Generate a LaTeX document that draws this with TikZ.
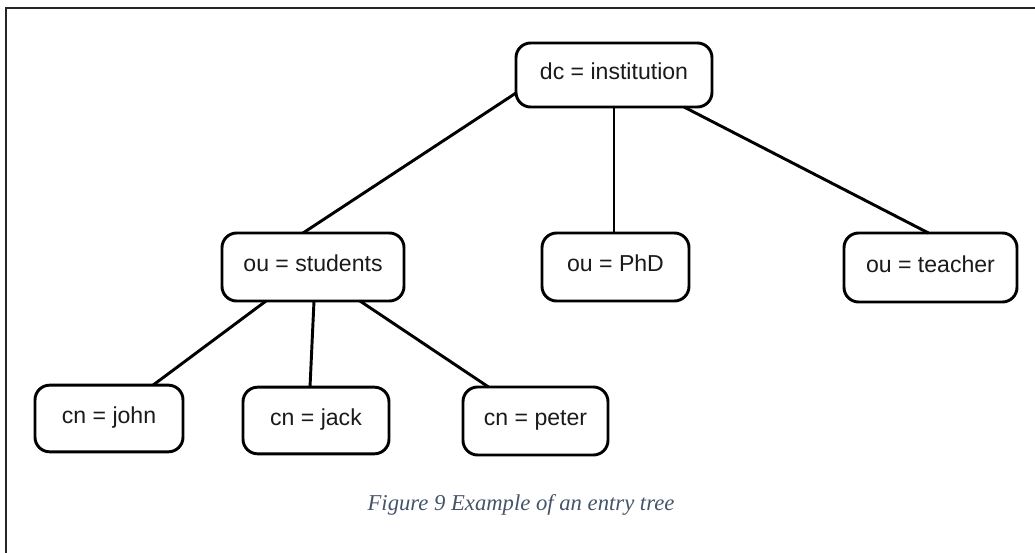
\documentclass[tikz,border=0pt]{standalone}
\usepackage{fontspec}
\setmainfont{Liberation Sans}
\newfontfamily\captionfont{Liberation Serif}
\usetikzlibrary{calc}
\definecolor{captiongray}{HTML}{44546A}
\definecolor{labelgray}{HTML}{1A1A1A}
\tikzset{
  entry/.style={draw=black, line width=2.2pt, rounded corners=11pt, fill=white,
    inner sep=0pt, outer sep=0pt, text=labelgray,
    text height=0.72em, text depth=0pt,
    font=\fontsize{17.3}{20}\selectfont},
  link/.style={draw=black, line width=2.2pt},
  frame/.style={draw=black!85, line width=1.9pt}
}
\begin{document}
\begin{tikzpicture}[x=0.75pt, y=-0.75pt]
  \useasboundingbox (0,0) rectangle (1035,553);
  % outer frame (top and left edges)
  \draw[frame] (6,553) -- (6,8) -- (1035,8);

  % tree entries
  \node[entry, minimum width=147pt,   minimum height=48pt]   (dc)      at (614,75)    {dc = institution};
  \node[entry, minimum width=136.5pt, minimum height=51pt]   (stud)    at (313,267)   {ou = students};
  \node[entry, minimum width=110.25pt,minimum height=51pt]   (phd)     at (615.5,267) {ou = PhD};
  \node[entry, minimum width=129.75pt,minimum height=51.75pt](teacher) at (930.5,267.5){ou = teacher};
  \node[entry, minimum width=111pt,   minimum height=50pt]   (john)    at (109,418.5) {cn = john};
  \node[entry, minimum width=109.5pt, minimum height=50pt]   (jack)    at (316,420.5) {cn = jack};
  \node[entry, minimum width=108.75pt,minimum height=51pt]   (peter)   at (535.5,421) {cn = peter};

  % links
  \draw[link] ($(dc.west)+(0,18)$) -- ($(stud.north)+(-10,0)$);
  \draw[link] (dc.south) -- (dc.south |- phd.north);
  \draw[link] ($(dc.south)+(70,0)$) -- ($(teacher.north)+(-2,0)$);
  \draw[link] ($(stud.south)+(-47,0)$) -- ($(john.north)+(44,0)$);
  \draw[link] ($(stud.south)+(1,0)$) -- ($(jack.north)+(-6,0)$);
  \draw[link] ($(stud.south)+(47,0)$) -- ($(peter.north)+(-47,0)$);

  % caption
  \node[font=\captionfont\itshape\fontsize{17}{20}\selectfont, text=captiongray] (cap) at (521,505)
    {Figure 9 Example of an entry tree};
\end{tikzpicture}
\end{document}
